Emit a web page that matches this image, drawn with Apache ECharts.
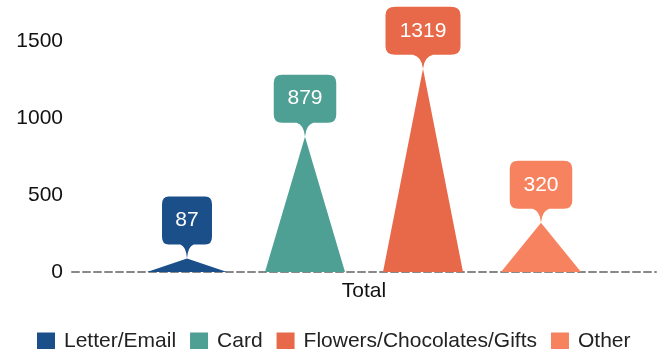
<!DOCTYPE html>
<html><head><meta charset="utf-8">
<script src="https://cdn.jsdelivr.net/npm/echarts@6/dist/echarts.min.js"></script>
<style>html,body{margin:0;padding:0;background:#fff}#c{width:669px;height:349px}</style>
</head><body><div id="c"></div>
<script>
var categories = ['Total'];
var seriesNames = ['Letter/Email', 'Card', 'Flowers/Chocolates/Gifts', 'Other'];
var seriesValues = [87, 879, 1319, 320];
var colors = ['#1b4f8a', '#4e9f94', '#e8694a', '#f7825f'];
var yTicks = [0, 500, 1000, 1500];

var tri = 'path://M0,100 L50,0 L100,100 Z';
var pin = 'path://M8,0 H52 Q60,0 60,8 V40 Q60,48 52,48 H38 Q31,50 30,62 Q29,50 22,48 H8 Q0,48 0,40 V8 Q0,0 8,0 Z';
var FONT = 'Liberation Sans';

var chart = echarts.init(document.getElementById('c'));
var series = seriesNames.map(function (n, i) {
  var txt = String(seriesValues[i]);
  var w = 25 + txt.length * 12.5;
  return {
    name: n, type: 'pictorialBar', symbol: tri, symbolSize: ['100%', '100%'],
    barWidth: 80, barGap: '47.5%',
    itemStyle: { color: colors[i] },
    data: [seriesValues[i]],
    markPoint: {
      symbol: pin, symbolSize: [w, 62], symbolKeepAspect: false, symbolOffset: [0, '-50%'],
      itemStyle: { color: colors[i] },
      label: { show: true, color: '#fff', fontSize: 21, fontFamily: FONT, offset: [0, -7] },
      data: [{ type: 'max' }]
    }
  };
});

chart.setOption({
  animation: false,
  color: colors,
  grid: { left: 72, right: 13, top: 41, bottom: 77 },
  legend: {
    top: 331, left: 37, padding: 0, itemWidth: 18, itemHeight: 18, itemGap: 14,
    icon: 'rect',
    textStyle: { fontSize: 21, color: '#222', fontFamily: FONT, padding: [0, 0, 0, 4] },
    data: seriesNames
  },
  xAxis: {
    type: 'category', data: categories,
    axisLine: { lineStyle: { color: '#888', width: 2, type: [7, 4] } },
    axisTick: { show: false },
    axisLabel: { fontSize: 21, color: '#111', fontFamily: FONT, margin: 9 }
  },
  yAxis: {
    type: 'value', min: yTicks[0], max: yTicks[yTicks.length - 1], interval: 500,
    splitLine: { show: false }, axisLine: { show: false }, axisTick: { show: false },
    axisLabel: { fontSize: 21, color: '#111', fontFamily: FONT, margin: 9,
      formatter: function (v) { return String(v); } }
  },
  series: series
});
</script></body></html>
